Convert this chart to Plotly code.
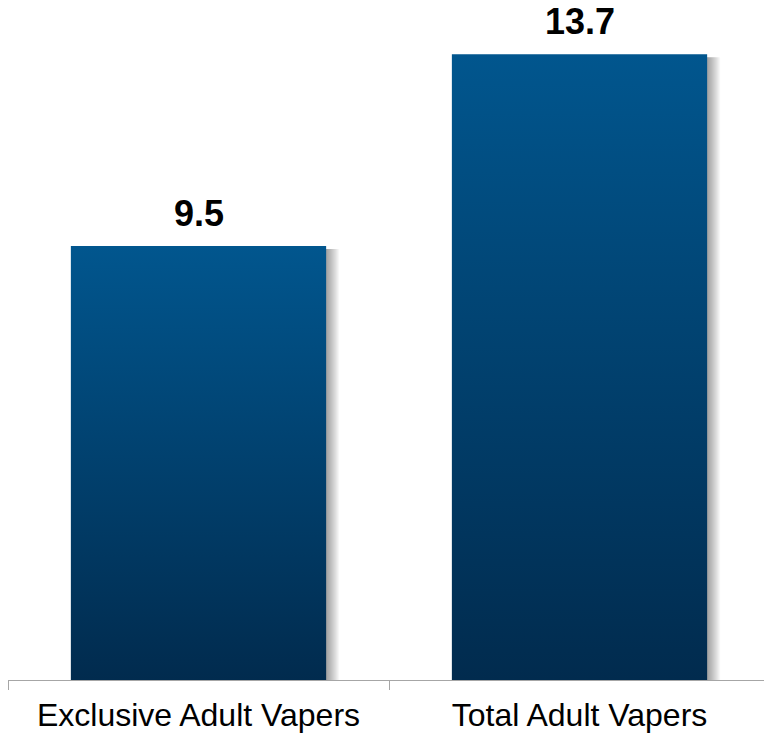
import plotly.graph_objects as go

categories = ["Exclusive Adult Vapers", "Total Adult Vapers"]
values = [9.5, 13.7]
value_labels = ["9.5", "13.7"]

BAR_W = 0.67
PX = 1 / 381.0          # one horizontal pixel in x units
PY = 1 / 45.68          # one vertical pixel in y units
TOP_C = "#01568E"
BOT_C = "#012B4E"

fig = go.Figure()

# soft shadows
for i, v in enumerate(values):
    x0 = i - BAR_W / 2
    x1 = i + BAR_W / 2
    for k in range(1, 14):
        sx0 = x0 + 4 * PX
        sx1 = x1 + k * PX
        sy0 = -k * 0.6 * PY
        sy1 = v - 3 * PY
        fig.add_trace(go.Scatter(
            x=[sx0, sx1, sx1, sx0, sx0], y=[sy0, sy0, sy1, sy1, sy0],
            fill="toself", mode="none", fillcolor="rgba(0,0,0,0.03)",
            hoverinfo="skip", showlegend=False, cliponaxis=False))

# gradient bars
for i, v in enumerate(values):
    x0 = i - BAR_W / 2
    x1 = i + BAR_W / 2
    fig.add_trace(go.Scatter(
        x=[x0, x1, x1, x0, x0], y=[0, 0, v, v, 0],
        fill="toself", mode="none",
        fillgradient=dict(type="vertical",
                          colorscale=[[0, BOT_C], [1, TOP_C]]),
        name=categories[i], showlegend=False, hoverinfo="x+y"))

for i, v in enumerate(values):
    fig.add_annotation(x=i, y=v, text="<b>%s</b>" % value_labels[i],
                       showarrow=False, yanchor="bottom", yshift=10,
                       font=dict(size=36, color="#000000",
                                 family="Liberation Sans, Arial, sans-serif"))

# dummy trace on overlay axis for tick marks
fig.add_trace(go.Scatter(x=[0, 1], y=[0, 0], xaxis="x2", mode="none",
                         showlegend=False, hoverinfo="skip"))

XR = [-0.5, -0.5 + 756 / 381.0]
fig.update_layout(
    width=764, height=735,
    margin=dict(l=8, r=0, t=0, b=55),
    paper_bgcolor="white", plot_bgcolor="white",
    xaxis=dict(range=XR, tickvals=[0, 1], ticktext=categories,
               showgrid=False, zeroline=False, ticks="",
               showline=True, linecolor="#A6A6A6", linewidth=1,
               tickfont=dict(size=32, color="#000000",
                             family="Liberation Sans, Arial, sans-serif"),
               ticklabelstandoff=7),
    xaxis2=dict(range=XR, overlaying="x", side="bottom",
                tickvals=[-0.5, 0.5, 1.5], showticklabels=False,
                ticks="outside", ticklen=9, tickcolor="#A6A6A6",
                tickwidth=1, showgrid=False, zeroline=False,
                showline=False),
    yaxis=dict(range=[0, 680 / 45.68], visible=False, showgrid=False,
               zeroline=False),
)

fig.write_html("out.html")
